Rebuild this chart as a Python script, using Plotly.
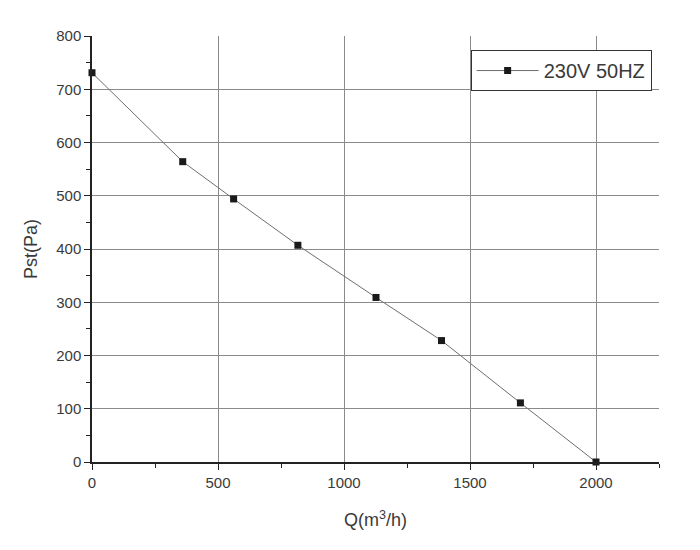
import plotly.graph_objects as go

# --- Data -----------------------------------------------------------------
flow_m3h = [0, 360, 562, 817, 1127, 1387, 1700, 2000]
static_pa = [731, 564, 494, 407, 309, 228, 111, 0]
series_name = "230V 50HZ"

font_family = "Liberation Sans, Arial, sans-serif"

fig = go.Figure()
fig.add_trace(
    go.Scatter(
        x=flow_m3h,
        y=static_pa,
        mode="lines+markers",
        name=series_name,
        line=dict(color="#6e6e6e", width=1),
        marker=dict(symbol="square", size=7, color="#1a1a1a"),
        cliponaxis=False,
    )
)

axis_common = dict(
    showline=True,
    linecolor="#222222",
    linewidth=1.5,
    ticks="outside",
    ticklen=6,
    tickwidth=1.2,
    tickcolor="#222222",
    showgrid=True,
    gridcolor="#8a8a8a",
    gridwidth=1,
    zeroline=False,
    tickfont=dict(size=15, color="#3a3a3a", family=font_family),
    title_font=dict(size=18, color="#3a3a3a", family=font_family),
)

fig.update_layout(
    width=700,
    height=550,
    margin=dict(l=84, r=49, t=28, b=96),
    plot_bgcolor="white",
    paper_bgcolor="white",
    font=dict(family=font_family, color="#333333"),
    xaxis=dict(
        range=[0, 2250],
        tick0=0,
        dtick=500,
        minor=dict(ticks="outside", ticklen=4, dtick=250, tickcolor="#222222", showgrid=False),
        title_text="Q(m<sup>3</sup>/h)",
        title_standoff=24,
        **axis_common,
    ),
    yaxis=dict(
        range=[0, 800],
        tick0=0,
        dtick=100,
        minor=dict(ticks="outside", ticklen=4, dtick=50, tickcolor="#222222", showgrid=False),
        title_text="Pst(Pa)",
        title_standoff=14,
        **axis_common,
    ),
    showlegend=True,
    legend=dict(
        x=0.987,
        y=0.967,
        xanchor="right",
        yanchor="top",
        bordercolor="#333333",
        borderwidth=1,
        bgcolor="white",
        itemwidth=62,
        font=dict(size=20, color="#3a3a3a", family=font_family),
    ),
)

fig.write_html("out.html")
